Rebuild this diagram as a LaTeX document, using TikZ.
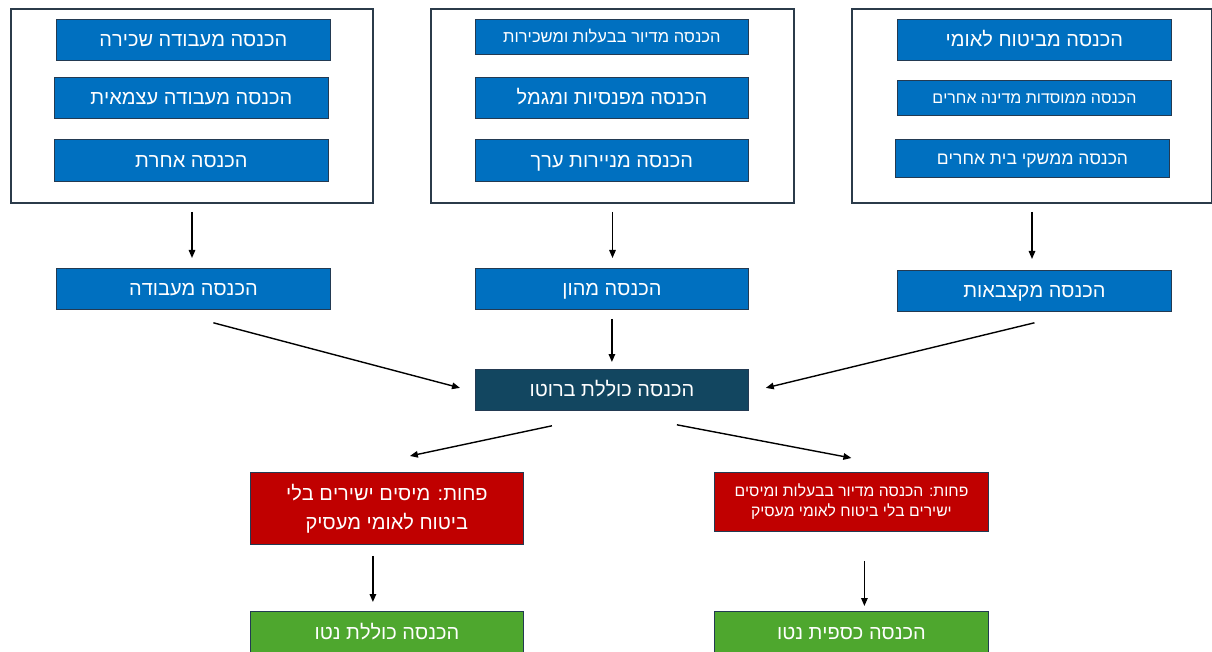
\documentclass[tikz,border=0pt]{standalone}
\usepackage{fontspec}
\setmainfont{Liberation Sans}
\TeXXeTstate=1
\usetikzlibrary{arrows.meta}
\definecolor{bblue}{HTML}{0070C0}
\definecolor{bdark}{HTML}{124660}
\definecolor{bred}{HTML}{C00000}
\definecolor{bgreen}{HTML}{4EA72E}
\definecolor{frm}{HTML}{2B3B4A}
\definecolor{edge}{HTML}{233A52}
\newcommand{\fs}[1]{\fontsize{#1}{#1}\selectfont}
\tikzset{
  frame/.style={draw=frm, line width=2pt, fill=white, inner sep=0pt, anchor=north west},
  box/.style={draw=edge, line width=0.8pt, text=white, inner sep=0pt, anchor=north west},
  arr/.style={draw=black, line width=1.4pt, -{Triangle[length=8pt,width=6.5pt]}},
}
% name, x1,y1,x2,y2, fill, font size, text
\newcommand{\bx}[8]{%
  \node[box, fill=#6, minimum width={(#4-#2)*1pt}, minimum height={(#5-#3)*1pt}] (#1) at (#2,#3)
    {\fs{#7}\smash{#8}\rule[-0.05em]{0pt}{0.8em}};}
% two-line box: name, x1,y1,x2,y2, fill, content
\newcommand{\bxx}[7]{%
  \node[box, fill=#6, minimum width={(#4-#2)*1pt}, minimum height={(#5-#3)*1pt}] (#1) at (#2,#3) {#7};}
\begin{document}
\begin{tikzpicture}[x=1pt,y=-1pt]
\useasboundingbox (0,0) rectangle (1212,652);
\clip (0,0) rectangle (1212,652);
% frames
\node[frame, minimum width=362pt, minimum height=194pt] (fL) at (10,8) {};
\node[frame, minimum width=363pt, minimum height=194pt] (fM) at (430,8) {};
\node[frame, minimum width=360pt, minimum height=194pt] (fR) at (851,8) {};
% left inner
\bx{a1}{56}{19}{330}{60}{bblue}{20}{\beginR הכנסה מעבודה שכירה\endR}
\bx{a2}{54}{77}{328}{118}{bblue}{20}{\beginR הכנסה מעבודה עצמאית\endR}
\bx{a3}{54}{139}{328}{181}{bblue}{20}{\beginR הכנסה אחרת\endR}
% middle inner
\bx{b1}{475}{19}{748}{54}{bblue}{16.5}{\beginR הכנסה מדיור בבעלות ומשכירות\endR}
\bx{b2}{475}{77}{748}{118}{bblue}{20}{\beginR הכנסה מפנסיות ומגמל\endR}
\bx{b3}{475}{139}{748}{181}{bblue}{20}{\beginR הכנסה מניירות ערך\endR}
% right inner
\bx{c1}{897}{19}{1171}{60}{bblue}{20}{\beginR הכנסה מביטוח לאומי\endR}
\bx{c2}{897}{80}{1171}{115}{bblue}{16}{\beginR הכנסה ממוסדות מדינה אחרים\endR}
\bx{c3}{895}{139}{1169}{177}{bblue}{17.5}{\beginR הכנסה ממשקי בית אחרים\endR}
% row 2
\bx{wL}{56}{268}{330}{309}{bblue}{20}{\beginR הכנסה מעבודה\endR}
\bx{wM}{475}{268}{748}{309}{bblue}{20}{\beginR הכנסה מהון\endR}
\bx{wR}{897}{270}{1171}{311}{bblue}{20}{\beginR הכנסה מקצבאות\endR}
% gross
\bx{gross}{475}{369}{748}{410}{bdark}{20}{\beginR הכנסה כוללת ברוטו\endR}
% deductions
\bxx{dL}{250}{472}{523}{544}{bred}{\parbox{270pt}{\centering\fontsize{20}{29}\selectfont\beginR פחות: מיסים ישירים בלי\endR\\\beginR ביטוח לאומי מעסיק\endR}}
\bxx{dR}{714}{472}{988}{531}{bred}{\parbox{270pt}{\centering\fontsize{15.7}{20}\selectfont\beginR פחות: הכנסה מדיור בבעלות ומיסים\endR\\\beginR ישירים בלי ביטוח לאומי מעסיק\endR}}
% net
\bx{nL}{250}{611}{523}{654}{bgreen}{20}{\beginR הכנסה כוללת נטו\endR}
\bx{nR}{714}{611}{988}{654}{bgreen}{20}{\beginR הכנסה כספית נטו\endR}
% arrows
\draw[arr, shorten <=8pt, shorten >=10pt] (fL.south) -- (fL.south |- wL.north);
\draw[arr, shorten <=8pt, shorten >=10pt] (fM.south) -- (fM.south |- wM.north);
\draw[arr, shorten <=8pt, shorten >=11pt] (fR.south) -- (fR.south |- wR.north);
\draw[arr] ([shift={(20,13)}]wL.south) -- ([shift={(-15,-2)}]gross.west);
\draw[arr, shorten <=9pt, shorten >=7pt] (wM.south) -- (gross.north);
\draw[arr] ([shift={(0,11)}]wR.south) -- ([shift={(17,-2)}]gross.east);
\draw[arr] ([shift={(-60,15)}]gross.south) -- ([shift={(23,-16)}]dL.north);
\draw[arr] ([shift={(65,14)}]gross.south) -- ([shift={(0,-14)}]dR.north);
\draw[arr] ([shift={(-14,11)}]dL.south) -- ([shift={(-14,-9)}]nL.north);
\draw[arr] ([shift={(13,29)}]dR.south) -- ([shift={(13,-5)}]nR.north);
\end{tikzpicture}
\end{document}
